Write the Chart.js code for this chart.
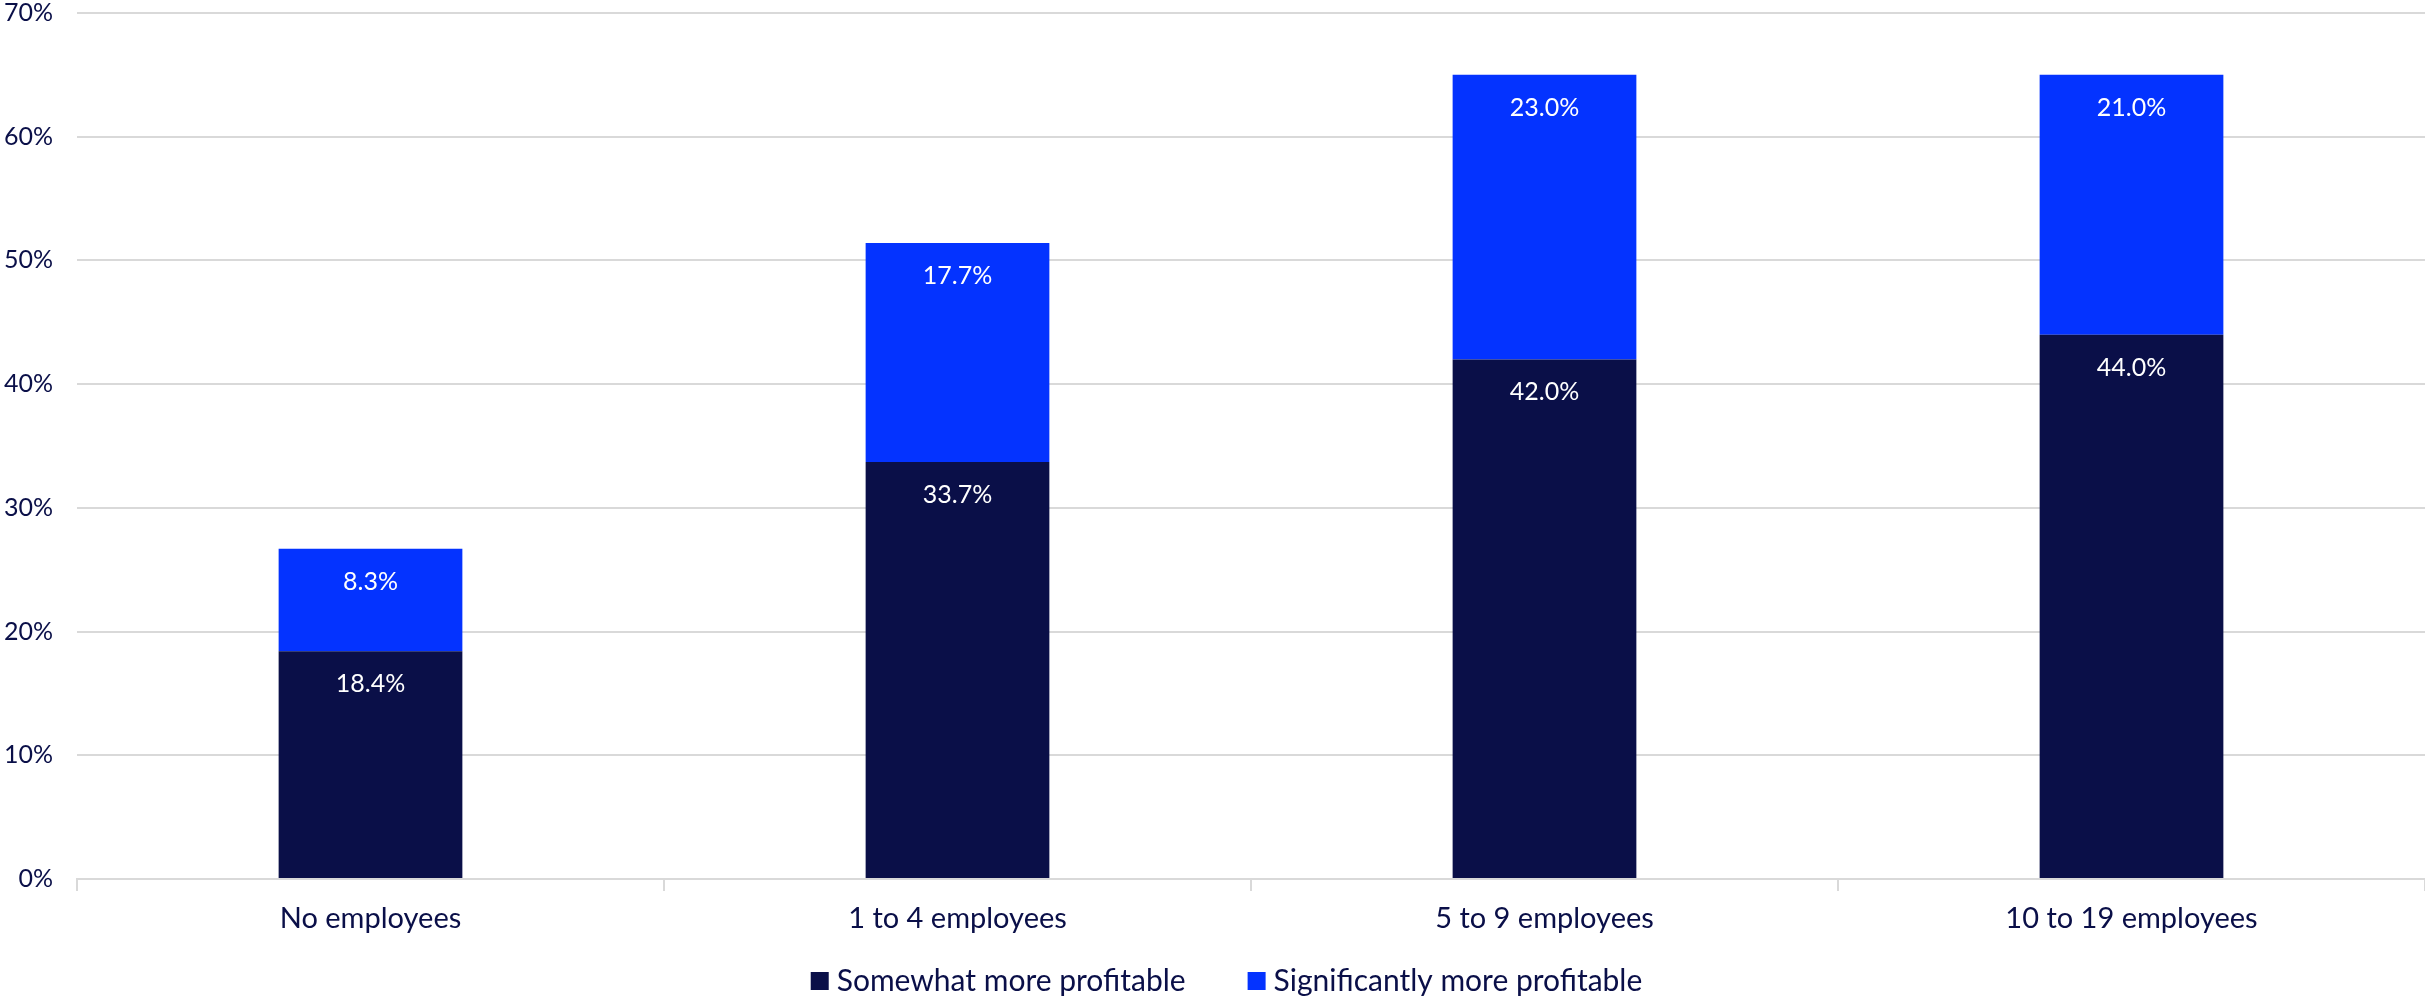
<!DOCTYPE html>
<html>
<head>
<meta charset="utf-8">
<script src="https://cdn.jsdelivr.net/npm/chart.js@4/dist/chart.umd.min.js"></script>
<style>
  html, body { margin: 0; padding: 0; background: #ffffff; }
  #wrap { width: 2425px; height: 1000px; position: relative; }
</style>
</head>
<body>
<div id="wrap"><canvas id="chart"></canvas></div>
<script>
// Share of businesses reporting higher profitability, by company size
const categories = ['No employees', '1 to 4 employees', '5 to 9 employees', '10 to 19 employees'];
const somewhatMore = [18.4, 33.7, 42.0, 44.0];
const significantlyMore = [8.3, 17.7, 23.0, 21.0];
const seriesNames = ['Somewhat more profitable', 'Significantly more profitable'];
const yTicks = [0, 10, 20, 30, 40, 50, 60, 70];

const NAVY = '#0a0f48';
const BLUE = '#0433ff';
const GRID = '#d9d9d9';
const FONT = "Lato, 'Open Sans', sans-serif";

// White value labels drawn just inside the top of each stacked segment
const segmentLabels = {
  id: 'segmentLabels',
  afterDatasetsDraw(chart) {
    const ctx = chart.ctx;
    ctx.save();
    ctx.fillStyle = '#ffffff';
    ctx.font = '25px ' + FONT;
    ctx.textAlign = 'center';
    ctx.textBaseline = 'middle';
    chart.data.datasets.forEach((ds, i) => {
      const meta = chart.getDatasetMeta(i);
      meta.data.forEach((bar, j) => {
        ctx.fillText(ds.data[j].toFixed(1) + '%', bar.x, bar.y + 33);
      });
    });
    ctx.restore();
  }
};

// Legend row under the axis: square swatch followed by the series name
const bottomLegend = {
  id: 'bottomLegend',
  afterDraw(chart) {
    const ctx = chart.ctx;
    const box = 18, gap = 8, spacing = 62;
    ctx.save();
    ctx.font = '30px ' + FONT;
    ctx.textBaseline = 'middle';
    ctx.textAlign = 'left';
    const items = chart.data.datasets.map(ds => ({
      text: ds.label, color: ds.backgroundColor, w: ctx.measureText(ds.label).width
    }));
    const total = items.reduce((s, it) => s + box + gap + it.w, 0) + spacing * (items.length - 1);
    let x = chart.width / 2 + 14 - total / 2;
    const y = 981;
    items.forEach(it => {
      ctx.fillStyle = it.color;
      ctx.fillRect(x, y - box / 2, box, box);
      x += box + gap;
      ctx.fillStyle = NAVY;
      ctx.fillText(it.text, x, y);
      x += it.w + spacing;
    });
    ctx.restore();
  }
};

new Chart(document.getElementById('chart'), {
  type: 'bar',
  data: {
    labels: categories,
    datasets: [
      { label: seriesNames[0], data: somewhatMore, backgroundColor: NAVY, borderWidth: 0 },
      { label: seriesNames[1], data: significantlyMore, backgroundColor: BLUE, borderWidth: 0 }
    ]
  },
  options: {
    responsive: true,
    maintainAspectRatio: false,
    animation: false,
    layout: { padding: { top: 13, right: 0, bottom: 59, left: 0 } },
    datasets: { bar: { categoryPercentage: 1.0, barPercentage: 0.313 } },
    plugins: {
      tooltip: { enabled: false },
      legend: { display: false }
    },
    scales: {
      x: {
        stacked: true,
        border: { display: true, color: GRID, width: 2 },
        grid: { offset: true, drawOnChartArea: false, drawTicks: true, tickLength: 12, color: GRID, lineWidth: 2 },
        ticks: { color: NAVY, font: { family: FONT, size: 29 }, padding: 10 },
        afterFit(scale) { scale.height = 62; }
      },
      y: {
        stacked: true,
        min: 0,
        max: 70,
        border: { display: false },
        grid: { color: GRID, lineWidth: 2, drawTicks: false },
        afterBuildTicks(scale) { scale.ticks = yTicks.map(v => ({ value: v })); },
        ticks: {
          color: NAVY,
          font: { family: FONT, size: 25 },
          padding: 24,
          callback: v => v + '%'
        },
        afterFit(scale) {
          scale.width = 77;
          scale.paddingTop = 0;
          scale.paddingBottom = 0;
        }
      }
    }
  },
  plugins: [segmentLabels, bottomLegend]
});
</script>
</body>
</html>
